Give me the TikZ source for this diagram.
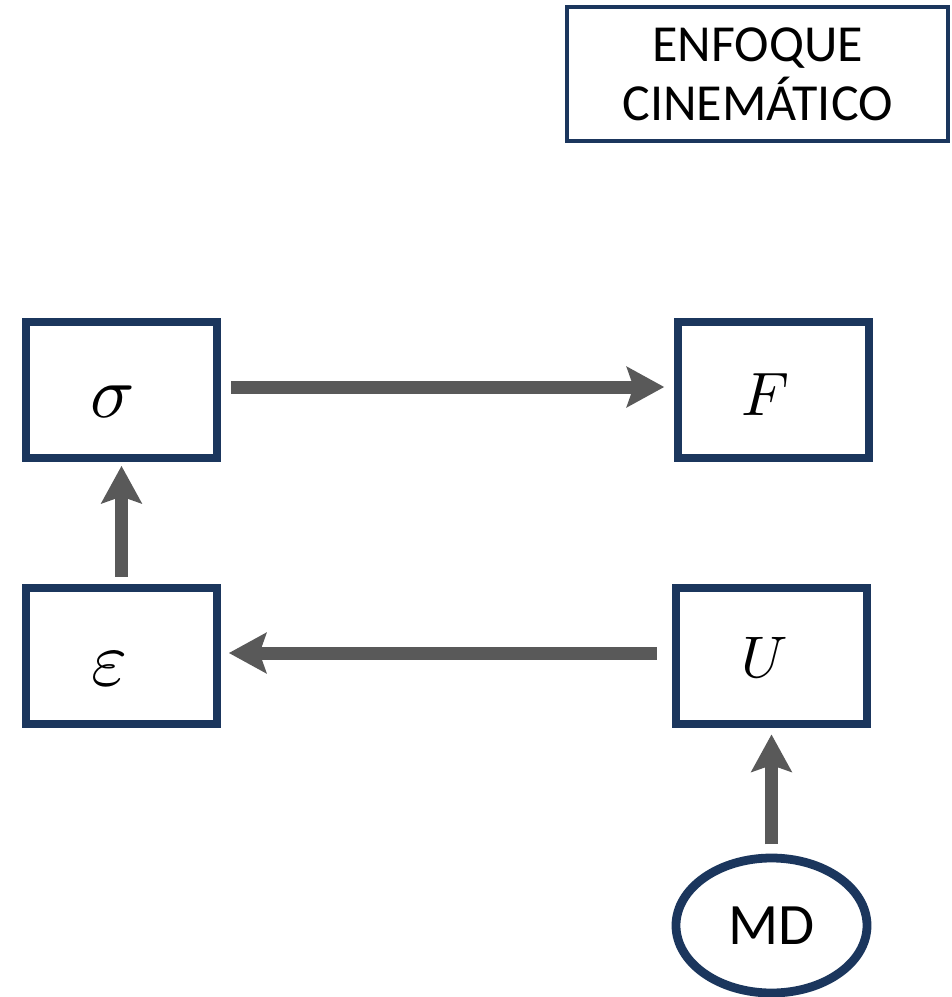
\documentclass[tikz,border=0pt]{standalone}
\usepackage{fontspec}
\setmainfont{Carlito}
\usetikzlibrary{arrows.meta,shapes.geometric}
\definecolor{navy}{HTML}{1B365D}
\definecolor{arrgray}{HTML}{595959}
\tikzset{
  qbox/.style={draw=navy, line width=6.6pt, fill=white, inner sep=0pt,
    minimum width=143.25pt, minimum height=102pt},
  qarrow/.style={draw=arrgray, line width=9.75pt,
    -{Stealth[length=28pt, width=30pt, inset=5pt]}},
  symtxt/.style={anchor=base, inner sep=0pt},
}
\begin{document}
\begin{tikzpicture}[x=0.75pt,y=-0.75pt]
\useasboundingbox (0,0) rectangle (951,997);
\node[draw=navy, line width=3pt, inner sep=0pt, minimum width=285.75pt,
  minimum height=100.5pt, align=center,
  font=\fontsize{39}{44}\selectfont] (title) at (757.5,74) {ENFOQUE\\CINEM\'ATICO};
\node[qbox] (sig) at (121.5,390) {};
\node[qbox] (F) at (773.5,390) {};
\node[qbox] (eps) at (121.5,656) {};
\node[qbox] (U) at (771.5,656) {};
\node[symtxt] (sigtxt) at (112.5,417) {\scalebox{5.5}{$\sigma$}};
\node[symtxt] (Ftxt) at (765,415) {\scalebox{4.6}{$F$}};
\node[symtxt] (epstxt) at (110,685) {\scalebox{5.8}{$\varepsilon$}};
\node[symtxt] (Utxt) at (765,677) {\scalebox{4.4}{$U$}};
\node[ellipse, draw=navy, line width=6.6pt, inner sep=0pt,
  minimum width=143.25pt, minimum height=101.25pt,
  font=\fontsize{44}{50}\selectfont] (MD) at (771.5,925.5) {MD};
\draw[qarrow, shorten <=7.5pt, shorten >=7pt]
  ([yshift=2.25pt]sig.east) -- ([yshift=2.25pt]F.west);
\draw[qarrow, shorten <=5pt, shorten >=2.6pt]
  (eps.north) -- (sig.south);
\draw[qarrow, shorten <=11pt, shorten >=5.6pt]
  ([yshift=2.25pt]U.west) -- ([yshift=2.25pt]eps.east);
\draw[qarrow, shorten <=7pt, shorten >=4.5pt]
  (MD.north) -- (U.south);
\end{tikzpicture}
\end{document}
